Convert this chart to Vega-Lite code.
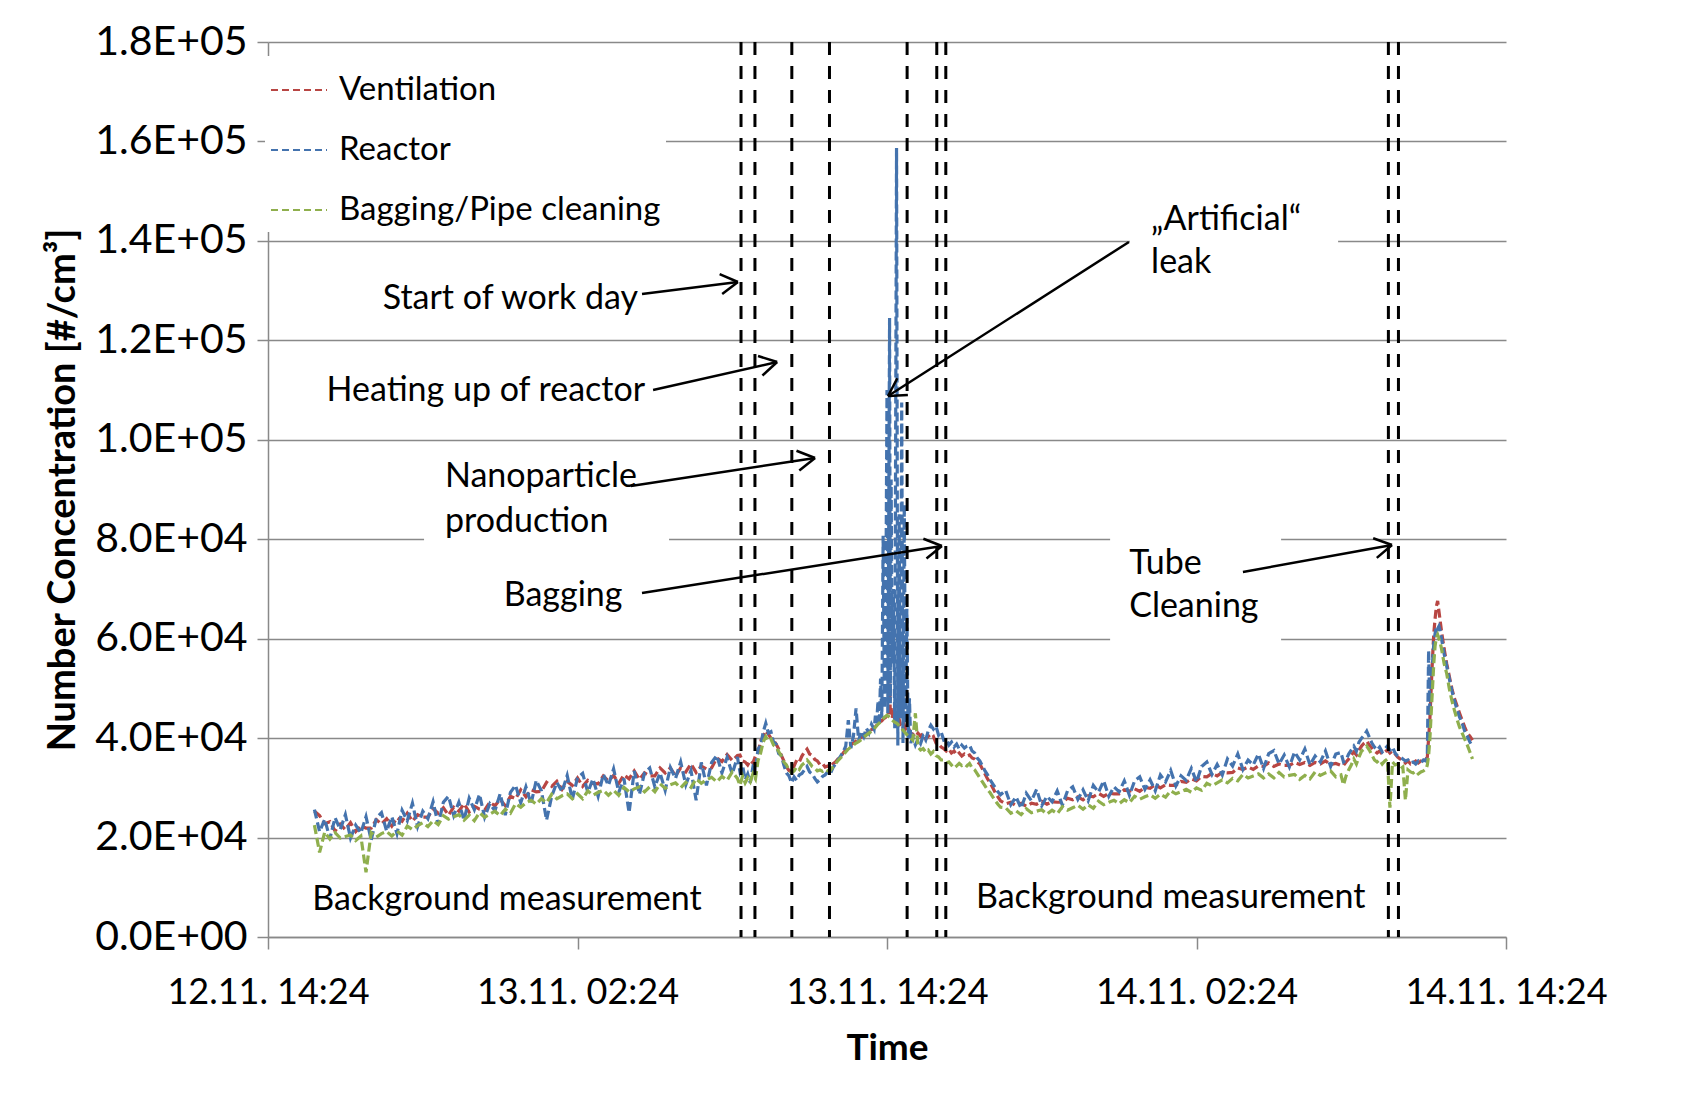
{
  "$schema": "https://vega.github.io/schema/vega-lite/v6.json",
  "width": 1238,
  "height": 895,
  "autosize": {"type": "none"},
  "padding": {"left": 268, "top": 42, "right": 200, "bottom": 160},
  "background": "white",
  "config": {
    "view": {"stroke": null},
    "font": "Lato",
    "axis": {"labelFont": "Lato", "titleFont": "Lato"}
  },
  "datasets": {
    "series": [
      {"t":1.8,"Ventilation":25300,"Reactor":25600,"Bagging/Pipe cleaning":22500},
      {"t":2.0,"Ventilation":24400,"Reactor":21200,"Bagging/Pipe cleaning":17000},
      {"t":2.2,"Ventilation":22800,"Reactor":23700,"Bagging/Pipe cleaning":21100},
      {"t":2.4,"Ventilation":23200,"Reactor":19800,"Bagging/Pipe cleaning":19700},
      {"t":2.6,"Ventilation":21300,"Reactor":24000,"Bagging/Pipe cleaning":21000},
      {"t":2.8,"Ventilation":22700,"Reactor":21600,"Bagging/Pipe cleaning":19900},
      {"t":3.0,"Ventilation":21600,"Reactor":24600,"Bagging/Pipe cleaning":20200},
      {"t":3.2,"Ventilation":23000,"Reactor":19900,"Bagging/Pipe cleaning":20500},
      {"t":3.4,"Ventilation":21200,"Reactor":22500,"Bagging/Pipe cleaning":19400},
      {"t":3.6,"Ventilation":22300,"Reactor":20900,"Bagging/Pipe cleaning":20300},
      {"t":3.8,"Ventilation":21900,"Reactor":24200,"Bagging/Pipe cleaning":13000},
      {"t":4.0,"Ventilation":21900,"Reactor":19500,"Bagging/Pipe cleaning":21000},
      {"t":4.2,"Ventilation":23600,"Reactor":23900,"Bagging/Pipe cleaning":20100},
      {"t":4.4,"Ventilation":22700,"Reactor":25000,"Bagging/Pipe cleaning":20800},
      {"t":4.6,"Ventilation":23800,"Reactor":21300,"Bagging/Pipe cleaning":21200},
      {"t":4.8,"Ventilation":22300,"Reactor":24200,"Bagging/Pipe cleaning":20300},
      {"t":5.0,"Ventilation":24000,"Reactor":20800,"Bagging/Pipe cleaning":21300},
      {"t":5.2,"Ventilation":23300,"Reactor":25500,"Bagging/Pipe cleaning":20500},
      {"t":5.4,"Ventilation":24900,"Reactor":23400,"Bagging/Pipe cleaning":22300},
      {"t":5.6,"Ventilation":23300,"Reactor":26900,"Bagging/Pipe cleaning":21600},
      {"t":5.8,"Ventilation":24600,"Reactor":22200,"Bagging/Pipe cleaning":22400},
      {"t":6.0,"Ventilation":24100,"Reactor":25300,"Bagging/Pipe cleaning":23000},
      {"t":6.2,"Ventilation":24100,"Reactor":23800,"Bagging/Pipe cleaning":22200},
      {"t":6.4,"Ventilation":25800,"Reactor":27200,"Bagging/Pipe cleaning":23400},
      {"t":6.6,"Ventilation":24900,"Reactor":22600,"Bagging/Pipe cleaning":22600},
      {"t":6.8,"Ventilation":26000,"Reactor":27100,"Bagging/Pipe cleaning":24400},
      {"t":7.0,"Ventilation":24500,"Reactor":28300,"Bagging/Pipe cleaning":23700},
      {"t":7.2,"Ventilation":26100,"Reactor":24400,"Bagging/Pipe cleaning":24200},
      {"t":7.4,"Ventilation":25300,"Reactor":27100,"Bagging/Pipe cleaning":24600},
      {"t":7.6,"Ventilation":26800,"Reactor":23500,"Bagging/Pipe cleaning":23500},
      {"t":7.8,"Ventilation":25100,"Reactor":27900,"Bagging/Pipe cleaning":24500},
      {"t":8.0,"Ventilation":26300,"Reactor":25600,"Bagging/Pipe cleaning":23400},
      {"t":8.2,"Ventilation":25700,"Reactor":28700,"Bagging/Pipe cleaning":25000},
      {"t":8.4,"Ventilation":25500,"Reactor":24100,"Bagging/Pipe cleaning":24100},
      {"t":8.6,"Ventilation":27100,"Reactor":26800,"Bagging/Pipe cleaning":24700},
      {"t":8.8,"Ventilation":26400,"Reactor":25400,"Bagging/Pipe cleaning":25300},
      {"t":9.0,"Ventilation":27700,"Reactor":28800,"Bagging/Pipe cleaning":24400},
      {"t":9.2,"Ventilation":26400,"Reactor":24500,"Bagging/Pipe cleaning":25700},
      {"t":9.4,"Ventilation":28300,"Reactor":29100,"Bagging/Pipe cleaning":24900},
      {"t":9.6,"Ventilation":27800,"Reactor":30500,"Bagging/Pipe cleaning":26800},
      {"t":9.8,"Ventilation":29600,"Reactor":27000,"Bagging/Pipe cleaning":26100},
      {"t":10.0,"Ventilation":28200,"Reactor":30200,"Bagging/Pipe cleaning":27000},
      {"t":10.2,"Ventilation":29600,"Reactor":26800,"Bagging/Pipe cleaning":27500},
      {"t":10.4,"Ventilation":29200,"Reactor":31500,"Bagging/Pipe cleaning":26700},
      {"t":10.6,"Ventilation":29300,"Reactor":29400,"Bagging/Pipe cleaning":27800},
      {"t":10.8,"Ventilation":31100,"Reactor":23500,"Bagging/Pipe cleaning":27000},
      {"t":11.0,"Ventilation":30300,"Reactor":28300,"Bagging/Pipe cleaning":28700},
      {"t":11.2,"Ventilation":31300,"Reactor":31100,"Bagging/Pipe cleaning":27800},
      {"t":11.4,"Ventilation":29700,"Reactor":29200,"Bagging/Pipe cleaning":28400},
      {"t":11.6,"Ventilation":31300,"Reactor":32500,"Bagging/Pipe cleaning":28800},
      {"t":11.8,"Ventilation":30500,"Reactor":27700,"Bagging/Pipe cleaning":27800},
      {"t":12.0,"Ventilation":32000,"Reactor":32000,"Bagging/Pipe cleaning":28800},
      {"t":12.2,"Ventilation":30300,"Reactor":32900,"Bagging/Pipe cleaning":27800},
      {"t":12.4,"Ventilation":31500,"Reactor":29100,"Bagging/Pipe cleaning":29400},
      {"t":12.6,"Ventilation":30900,"Reactor":31800,"Bagging/Pipe cleaning":28500},
      {"t":12.8,"Ventilation":30800,"Reactor":28300,"Bagging/Pipe cleaning":29100},
      {"t":13.0,"Ventilation":32400,"Reactor":32700,"Bagging/Pipe cleaning":29500},
      {"t":13.2,"Ventilation":31400,"Reactor":30500,"Bagging/Pipe cleaning":28500},
      {"t":13.4,"Ventilation":32500,"Reactor":33800,"Bagging/Pipe cleaning":29500},
      {"t":13.6,"Ventilation":30900,"Reactor":29100,"Bagging/Pipe cleaning":28500},
      {"t":13.8,"Ventilation":32600,"Reactor":31900,"Bagging/Pipe cleaning":30100},
      {"t":14.0,"Ventilation":31800,"Reactor":25000,"Bagging/Pipe cleaning":29200},
      {"t":14.2,"Ventilation":33400,"Reactor":33400,"Bagging/Pipe cleaning":29800},
      {"t":14.4,"Ventilation":31700,"Reactor":28700,"Bagging/Pipe cleaning":30200},
      {"t":14.6,"Ventilation":33000,"Reactor":33000,"Bagging/Pipe cleaning":29200},
      {"t":14.8,"Ventilation":32400,"Reactor":34000,"Bagging/Pipe cleaning":30200},
      {"t":15.0,"Ventilation":32400,"Reactor":30200,"Bagging/Pipe cleaning":29200},
      {"t":15.2,"Ventilation":34000,"Reactor":33000,"Bagging/Pipe cleaning":30800},
      {"t":15.4,"Ventilation":33000,"Reactor":29500,"Bagging/Pipe cleaning":29900},
      {"t":15.6,"Ventilation":34000,"Reactor":34100,"Bagging/Pipe cleaning":30600},
      {"t":15.8,"Ventilation":32400,"Reactor":31900,"Bagging/Pipe cleaning":31000},
      {"t":16.0,"Ventilation":34000,"Reactor":35200,"Bagging/Pipe cleaning":30000},
      {"t":16.2,"Ventilation":33200,"Reactor":30600,"Bagging/Pipe cleaning":31100},
      {"t":16.4,"Ventilation":34800,"Reactor":33500,"Bagging/Pipe cleaning":30100},
      {"t":16.6,"Ventilation":33100,"Reactor":27500,"Bagging/Pipe cleaning":31800},
      {"t":16.8,"Ventilation":34400,"Reactor":35100,"Bagging/Pipe cleaning":30900},
      {"t":17.0,"Ventilation":33800,"Reactor":30500,"Bagging/Pipe cleaning":31600},
      {"t":17.2,"Ventilation":34000,"Reactor":35100,"Bagging/Pipe cleaning":32100},
      {"t":17.4,"Ventilation":36000,"Reactor":36500,"Bagging/Pipe cleaning":31200},
      {"t":17.6,"Ventilation":35300,"Reactor":33000,"Bagging/Pipe cleaning":32300},
      {"t":17.8,"Ventilation":36700,"Reactor":36100,"Bagging/Pipe cleaning":31500},
      {"t":18.0,"Ventilation":35500,"Reactor":32800,"Bagging/Pipe cleaning":33200},
      {"t":18.2,"Ventilation":36500,"Reactor":36200,"Bagging/Pipe cleaning":31900},
      {"t":18.3,"Ventilation":36600,"Reactor":33200,"Bagging/Pipe cleaning":30500},
      {"t":18.4,"Ventilation":35400,"Reactor":34500,"Bagging/Pipe cleaning":32400},
      {"t":18.5,"Ventilation":35200,"Reactor":31600,"Bagging/Pipe cleaning":31000},
      {"t":18.6,"Ventilation":34600,"Reactor":32800,"Bagging/Pipe cleaning":32000},
      {"t":18.7,"Ventilation":35500,"Reactor":31000,"Bagging/Pipe cleaning":31200},
      {"t":18.8,"Ventilation":35000,"Reactor":34200,"Bagging/Pipe cleaning":32800},
      {"t":18.9,"Ventilation":36400,"Reactor":33500,"Bagging/Pipe cleaning":31800},
      {"t":19.0,"Ventilation":37000,"Reactor":37800,"Bagging/Pipe cleaning":35500},
      {"t":19.1,"Ventilation":39500,"Reactor":38500,"Bagging/Pipe cleaning":37000},
      {"t":19.2,"Ventilation":40200,"Reactor":41200,"Bagging/Pipe cleaning":39200},
      {"t":19.3,"Ventilation":41500,"Reactor":43000,"Bagging/Pipe cleaning":40300},
      {"t":19.4,"Ventilation":40800,"Reactor":41000,"Bagging/Pipe cleaning":39400},
      {"t":19.5,"Ventilation":40000,"Reactor":41300,"Bagging/Pipe cleaning":39800},
      {"t":19.6,"Ventilation":39600,"Reactor":39200,"Bagging/Pipe cleaning":38600},
      {"t":19.7,"Ventilation":38800,"Reactor":38800,"Bagging/Pipe cleaning":38200},
      {"t":19.8,"Ventilation":37800,"Reactor":36900,"Bagging/Pipe cleaning":37300},
      {"t":19.9,"Ventilation":36600,"Reactor":36500,"Bagging/Pipe cleaning":36400},
      {"t":20.0,"Ventilation":35400,"Reactor":34600,"Bagging/Pipe cleaning":35200},
      {"t":20.1,"Ventilation":34200,"Reactor":33000,"Bagging/Pipe cleaning":34600},
      {"t":20.2,"Ventilation":33500,"Reactor":32400,"Bagging/Pipe cleaning":33600},
      {"t":20.3,"Ventilation":33200,"Reactor":31000,"Bagging/Pipe cleaning":33000},
      {"t":20.4,"Ventilation":34400,"Reactor":32200,"Bagging/Pipe cleaning":33400},
      {"t":20.5,"Ventilation":35600,"Reactor":31500,"Bagging/Pipe cleaning":34200},
      {"t":20.6,"Ventilation":35200,"Reactor":32600,"Bagging/Pipe cleaning":33700},
      {"t":20.7,"Ventilation":36400,"Reactor":32900,"Bagging/Pipe cleaning":34600},
      {"t":20.8,"Ventilation":37200,"Reactor":33600,"Bagging/Pipe cleaning":35000},
      {"t":20.9,"Ventilation":37800,"Reactor":34300,"Bagging/Pipe cleaning":35600},
      {"t":21.0,"Ventilation":36800,"Reactor":33200,"Bagging/Pipe cleaning":35000},
      {"t":21.1,"Ventilation":36500,"Reactor":32800,"Bagging/Pipe cleaning":34300},
      {"t":21.2,"Ventilation":35700,"Reactor":31900,"Bagging/Pipe cleaning":34000},
      {"t":21.3,"Ventilation":35400,"Reactor":31200,"Bagging/Pipe cleaning":33400},
      {"t":21.4,"Ventilation":34700,"Reactor":31600,"Bagging/Pipe cleaning":33600},
      {"t":21.5,"Ventilation":34900,"Reactor":32300,"Bagging/Pipe cleaning":33300},
      {"t":21.6,"Ventilation":34200,"Reactor":32600,"Bagging/Pipe cleaning":33700},
      {"t":21.7,"Ventilation":34400,"Reactor":33200,"Bagging/Pipe cleaning":33400},
      {"t":21.8,"Ventilation":34000,"Reactor":32800,"Bagging/Pipe cleaning":33500},
      {"t":21.9,"Ventilation":34800,"Reactor":34000,"Bagging/Pipe cleaning":34200},
      {"t":22.0,"Ventilation":35200,"Reactor":34800,"Bagging/Pipe cleaning":34800},
      {"t":22.1,"Ventilation":35800,"Reactor":35600,"Bagging/Pipe cleaning":35500},
      {"t":22.2,"Ventilation":36200,"Reactor":36400,"Bagging/Pipe cleaning":36000},
      {"t":22.3,"Ventilation":37000,"Reactor":37200,"Bagging/Pipe cleaning":36600},
      {"t":22.4,"Ventilation":37600,"Reactor":38400,"Bagging/Pipe cleaning":37200},
      {"t":22.5,"Ventilation":38200,"Reactor":43600,"Bagging/Pipe cleaning":37800},
      {"t":22.6,"Ventilation":38600,"Reactor":38000,"Bagging/Pipe cleaning":38200},
      {"t":22.7,"Ventilation":39000,"Reactor":40400,"Bagging/Pipe cleaning":38600},
      {"t":22.8,"Ventilation":39400,"Reactor":46000,"Bagging/Pipe cleaning":39000},
      {"t":22.9,"Ventilation":39800,"Reactor":39500,"Bagging/Pipe cleaning":39300},
      {"t":23.0,"Ventilation":40200,"Reactor":41400,"Bagging/Pipe cleaning":39700},
      {"t":23.1,"Ventilation":40600,"Reactor":40300,"Bagging/Pipe cleaning":40200},
      {"t":23.2,"Ventilation":41000,"Reactor":42000,"Bagging/Pipe cleaning":40600},
      {"t":23.3,"Ventilation":41400,"Reactor":41000,"Bagging/Pipe cleaning":41000},
      {"t":23.4,"Ventilation":41700,"Reactor":42800,"Bagging/Pipe cleaning":41400},
      {"t":23.5,"Ventilation":42000,"Reactor":41800,"Bagging/Pipe cleaning":41800},
      {"t":23.55,"Ventilation":42300,"Reactor":44500,"Bagging/Pipe cleaning":42200},
      {"t":23.6,"Ventilation":42600,"Reactor":43000,"Bagging/Pipe cleaning":42500},
      {"t":23.65,"Ventilation":42900,"Reactor":47500,"Bagging/Pipe cleaning":42800},
      {"t":23.7,"Ventilation":43000,"Reactor":42500,"Bagging/Pipe cleaning":43000},
      {"t":23.75,"Ventilation":43300,"Reactor":52000,"Bagging/Pipe cleaning":43300},
      {"t":23.8,"Ventilation":43500,"Reactor":44000,"Bagging/Pipe cleaning":43600},
      {"t":23.85,"Ventilation":43800,"Reactor":80700,"Bagging/Pipe cleaning":43900},
      {"t":23.9,"Ventilation":44000,"Reactor":46000,"Bagging/Pipe cleaning":44200},
      {"t":23.95,"Ventilation":44200,"Reactor":62000,"Bagging/Pipe cleaning":44400},
      {"t":24.0,"Ventilation":44500,"Reactor":110000,"Bagging/Pipe cleaning":44600},
      {"t":24.03,"Ventilation":44300,"Reactor":45000,"Bagging/Pipe cleaning":44500},
      {"t":24.06,"Ventilation":45000,"Reactor":75000,"Bagging/Pipe cleaning":44400},
      {"t":24.1,"Ventilation":51000,"Reactor":124500,"Bagging/Pipe cleaning":44200},
      {"t":24.13,"Ventilation":44800,"Reactor":47000,"Bagging/Pipe cleaning":44000},
      {"t":24.16,"Ventilation":46000,"Reactor":92000,"Bagging/Pipe cleaning":43800},
      {"t":24.2,"Ventilation":44000,"Reactor":55000,"Bagging/Pipe cleaning":43600},
      {"t":24.25,"Ventilation":45500,"Reactor":70000,"Bagging/Pipe cleaning":43400},
      {"t":24.3,"Ventilation":43600,"Reactor":42000,"Bagging/Pipe cleaning":43200},
      {"t":24.37,"Ventilation":44200,"Reactor":158700,"Bagging/Pipe cleaning":43000},
      {"t":24.42,"Ventilation":43200,"Reactor":38500,"Bagging/Pipe cleaning":42800},
      {"t":24.47,"Ventilation":43800,"Reactor":85000,"Bagging/Pipe cleaning":42500},
      {"t":24.52,"Ventilation":42800,"Reactor":44000,"Bagging/Pipe cleaning":42200},
      {"t":24.57,"Ventilation":43000,"Reactor":107500,"Bagging/Pipe cleaning":41900},
      {"t":24.62,"Ventilation":42200,"Reactor":39000,"Bagging/Pipe cleaning":41600},
      {"t":24.67,"Ventilation":42600,"Reactor":87000,"Bagging/Pipe cleaning":41300},
      {"t":24.72,"Ventilation":41800,"Reactor":43000,"Bagging/Pipe cleaning":41000},
      {"t":24.77,"Ventilation":42000,"Reactor":66000,"Bagging/Pipe cleaning":40700},
      {"t":24.82,"Ventilation":41400,"Reactor":40000,"Bagging/Pipe cleaning":40400},
      {"t":24.87,"Ventilation":41600,"Reactor":48000,"Bagging/Pipe cleaning":40200},
      {"t":24.92,"Ventilation":41000,"Reactor":39000,"Bagging/Pipe cleaning":40000},
      {"t":25.0,"Ventilation":40800,"Reactor":40200,"Bagging/Pipe cleaning":39600},
      {"t":25.1,"Ventilation":40200,"Reactor":38600,"Bagging/Pipe cleaning":45000},
      {"t":25.2,"Ventilation":41000,"Reactor":39800,"Bagging/Pipe cleaning":38200},
      {"t":25.3,"Ventilation":40400,"Reactor":38900,"Bagging/Pipe cleaning":37600},
      {"t":25.4,"Ventilation":40900,"Reactor":40400,"Bagging/Pipe cleaning":37900},
      {"t":25.5,"Ventilation":39800,"Reactor":39600,"Bagging/Pipe cleaning":37200},
      {"t":25.6,"Ventilation":40500,"Reactor":41500,"Bagging/Pipe cleaning":37600},
      {"t":25.7,"Ventilation":39900,"Reactor":42600,"Bagging/Pipe cleaning":36800},
      {"t":25.8,"Ventilation":40300,"Reactor":41800,"Bagging/Pipe cleaning":37300},
      {"t":25.9,"Ventilation":39000,"Reactor":42400,"Bagging/Pipe cleaning":36500},
      {"t":26.0,"Ventilation":38800,"Reactor":40600,"Bagging/Pipe cleaning":36200},
      {"t":26.1,"Ventilation":38200,"Reactor":41200,"Bagging/Pipe cleaning":35600},
      {"t":26.2,"Ventilation":37900,"Reactor":39600,"Bagging/Pipe cleaning":35600},
      {"t":26.3,"Ventilation":37400,"Reactor":39800,"Bagging/Pipe cleaning":35000},
      {"t":26.4,"Ventilation":37800,"Reactor":38600,"Bagging/Pipe cleaning":35200},
      {"t":26.5,"Ventilation":37000,"Reactor":39200,"Bagging/Pipe cleaning":34600},
      {"t":26.6,"Ventilation":37400,"Reactor":38200,"Bagging/Pipe cleaning":35000},
      {"t":26.7,"Ventilation":36600,"Reactor":38800,"Bagging/Pipe cleaning":34400},
      {"t":26.8,"Ventilation":37000,"Reactor":37800,"Bagging/Pipe cleaning":34900},
      {"t":26.9,"Ventilation":36400,"Reactor":38600,"Bagging/Pipe cleaning":34500},
      {"t":27.0,"Ventilation":36800,"Reactor":38000,"Bagging/Pipe cleaning":34800},
      {"t":27.1,"Ventilation":36400,"Reactor":38400,"Bagging/Pipe cleaning":34400},
      {"t":27.2,"Ventilation":36600,"Reactor":38600,"Bagging/Pipe cleaning":34900},
      {"t":27.3,"Ventilation":36000,"Reactor":37400,"Bagging/Pipe cleaning":34000},
      {"t":27.4,"Ventilation":35800,"Reactor":37000,"Bagging/Pipe cleaning":33600},
      {"t":27.5,"Ventilation":35200,"Reactor":36000,"Bagging/Pipe cleaning":32800},
      {"t":27.6,"Ventilation":34800,"Reactor":35400,"Bagging/Pipe cleaning":32000},
      {"t":27.7,"Ventilation":33800,"Reactor":34400,"Bagging/Pipe cleaning":31200},
      {"t":27.8,"Ventilation":32800,"Reactor":33400,"Bagging/Pipe cleaning":30400},
      {"t":27.9,"Ventilation":31800,"Reactor":32600,"Bagging/Pipe cleaning":29600},
      {"t":28.0,"Ventilation":31000,"Reactor":31600,"Bagging/Pipe cleaning":29000},
      {"t":28.1,"Ventilation":30000,"Reactor":30800,"Bagging/Pipe cleaning":28200},
      {"t":28.2,"Ventilation":29000,"Reactor":30000,"Bagging/Pipe cleaning":27400},
      {"t":28.3,"Ventilation":28200,"Reactor":29200,"Bagging/Pipe cleaning":26700},
      {"t":28.4,"Ventilation":27400,"Reactor":28600,"Bagging/Pipe cleaning":26100},
      {"t":28.6,"Ventilation":26800,"Reactor":29500,"Bagging/Pipe cleaning":26000},
      {"t":28.8,"Ventilation":27100,"Reactor":26600,"Bagging/Pipe cleaning":24900},
      {"t":29.0,"Ventilation":26400,"Reactor":28200,"Bagging/Pipe cleaning":25400},
      {"t":29.2,"Ventilation":26900,"Reactor":25900,"Bagging/Pipe cleaning":24600},
      {"t":29.4,"Ventilation":26300,"Reactor":28900,"Bagging/Pipe cleaning":25800},
      {"t":29.6,"Ventilation":26900,"Reactor":27400,"Bagging/Pipe cleaning":25000},
      {"t":29.8,"Ventilation":26700,"Reactor":29700,"Bagging/Pipe cleaning":25300},
      {"t":30.0,"Ventilation":27300,"Reactor":26400,"Bagging/Pipe cleaning":25600},
      {"t":30.2,"Ventilation":26700,"Reactor":28300,"Bagging/Pipe cleaning":24700},
      {"t":30.4,"Ventilation":27200,"Reactor":27200,"Bagging/Pipe cleaning":25500},
      {"t":30.6,"Ventilation":27100,"Reactor":29400,"Bagging/Pipe cleaning":24800},
      {"t":30.8,"Ventilation":27100,"Reactor":26500,"Bagging/Pipe cleaning":26200},
      {"t":31.0,"Ventilation":27900,"Reactor":29400,"Bagging/Pipe cleaning":25500},
      {"t":31.2,"Ventilation":27600,"Reactor":30200,"Bagging/Pipe cleaning":26000},
      {"t":31.4,"Ventilation":28200,"Reactor":27700,"Bagging/Pipe cleaning":26500},
      {"t":31.6,"Ventilation":27600,"Reactor":29600,"Bagging/Pipe cleaning":25700},
      {"t":31.8,"Ventilation":28400,"Reactor":27400,"Bagging/Pipe cleaning":26600},
      {"t":32.0,"Ventilation":28200,"Reactor":30500,"Bagging/Pipe cleaning":25900},
      {"t":32.2,"Ventilation":28900,"Reactor":29100,"Bagging/Pipe cleaning":27300},
      {"t":32.4,"Ventilation":28300,"Reactor":31400,"Bagging/Pipe cleaning":26600},
      {"t":32.6,"Ventilation":28900,"Reactor":28300,"Bagging/Pipe cleaning":27100},
      {"t":32.8,"Ventilation":28800,"Reactor":30200,"Bagging/Pipe cleaning":27500},
      {"t":33.0,"Ventilation":28800,"Reactor":29200,"Bagging/Pipe cleaning":26800},
      {"t":33.2,"Ventilation":29600,"Reactor":31400,"Bagging/Pipe cleaning":27600},
      {"t":33.4,"Ventilation":29300,"Reactor":28500,"Bagging/Pipe cleaning":27000},
      {"t":33.6,"Ventilation":29800,"Reactor":31400,"Bagging/Pipe cleaning":28300},
      {"t":33.8,"Ventilation":29300,"Reactor":32200,"Bagging/Pipe cleaning":27700},
      {"t":34.0,"Ventilation":30100,"Reactor":29700,"Bagging/Pipe cleaning":28200},
      {"t":34.2,"Ventilation":29900,"Reactor":31600,"Bagging/Pipe cleaning":28600},
      {"t":34.4,"Ventilation":30600,"Reactor":29400,"Bagging/Pipe cleaning":27900},
      {"t":34.6,"Ventilation":30000,"Reactor":32600,"Bagging/Pipe cleaning":28700},
      {"t":34.8,"Ventilation":30600,"Reactor":31200,"Bagging/Pipe cleaning":28100},
      {"t":35.0,"Ventilation":30500,"Reactor":33500,"Bagging/Pipe cleaning":29400},
      {"t":35.2,"Ventilation":30500,"Reactor":30400,"Bagging/Pipe cleaning":28800},
      {"t":35.4,"Ventilation":31300,"Reactor":32400,"Bagging/Pipe cleaning":29200},
      {"t":35.6,"Ventilation":31100,"Reactor":31500,"Bagging/Pipe cleaning":29700},
      {"t":35.8,"Ventilation":31800,"Reactor":33900,"Bagging/Pipe cleaning":29100},
      {"t":36.0,"Ventilation":31400,"Reactor":31200,"Bagging/Pipe cleaning":30000},
      {"t":36.2,"Ventilation":32300,"Reactor":34300,"Bagging/Pipe cleaning":29500},
      {"t":36.4,"Ventilation":32200,"Reactor":35200,"Bagging/Pipe cleaning":30900},
      {"t":36.6,"Ventilation":32900,"Reactor":32700,"Bagging/Pipe cleaning":30400},
      {"t":36.8,"Ventilation":32400,"Reactor":34700,"Bagging/Pipe cleaning":31000},
      {"t":37.0,"Ventilation":33100,"Reactor":32600,"Bagging/Pipe cleaning":31600},
      {"t":37.2,"Ventilation":33000,"Reactor":35800,"Bagging/Pipe cleaning":31000},
      {"t":37.4,"Ventilation":33100,"Reactor":34400,"Bagging/Pipe cleaning":31900},
      {"t":37.6,"Ventilation":34000,"Reactor":36800,"Bagging/Pipe cleaning":31400},
      {"t":37.8,"Ventilation":33700,"Reactor":33700,"Bagging/Pipe cleaning":32700},
      {"t":38.0,"Ventilation":34200,"Reactor":35600,"Bagging/Pipe cleaning":32000},
      {"t":38.2,"Ventilation":33700,"Reactor":34600,"Bagging/Pipe cleaning":32400},
      {"t":38.4,"Ventilation":34400,"Reactor":36800,"Bagging/Pipe cleaning":32800},
      {"t":38.6,"Ventilation":34300,"Reactor":33900,"Bagging/Pipe cleaning":32000},
      {"t":38.8,"Ventilation":35000,"Reactor":36900,"Bagging/Pipe cleaning":32800},
      {"t":39.0,"Ventilation":34300,"Reactor":37500,"Bagging/Pipe cleaning":32000},
      {"t":39.2,"Ventilation":34800,"Reactor":34800,"Bagging/Pipe cleaning":33100},
      {"t":39.4,"Ventilation":34500,"Reactor":36600,"Bagging/Pipe cleaning":32200},
      {"t":39.6,"Ventilation":34500,"Reactor":34200,"Bagging/Pipe cleaning":32500},
      {"t":39.8,"Ventilation":35100,"Reactor":37200,"Bagging/Pipe cleaning":32700},
      {"t":40.0,"Ventilation":34700,"Reactor":35600,"Bagging/Pipe cleaning":31700},
      {"t":40.2,"Ventilation":35100,"Reactor":37800,"Bagging/Pipe cleaning":32500},
      {"t":40.4,"Ventilation":34500,"Reactor":34600,"Bagging/Pipe cleaning":31800},
      {"t":40.6,"Ventilation":35100,"Reactor":36400,"Bagging/Pipe cleaning":33200},
      {"t":40.8,"Ventilation":34800,"Reactor":35200,"Bagging/Pipe cleaning":32500},
      {"t":41.0,"Ventilation":35400,"Reactor":37400,"Bagging/Pipe cleaning":33000},
      {"t":41.2,"Ventilation":34700,"Reactor":34300,"Bagging/Pipe cleaning":33400},
      {"t":41.4,"Ventilation":34900,"Reactor":36800,"Bagging/Pipe cleaning":32200},
      {"t":41.6,"Ventilation":34500,"Reactor":37100,"Bagging/Pipe cleaning":32600},
      {"t":41.7,"Ventilation":34500,"Reactor":35200,"Bagging/Pipe cleaning":30600},
      {"t":41.8,"Ventilation":35200,"Reactor":35600,"Bagging/Pipe cleaning":32400},
      {"t":41.9,"Ventilation":35800,"Reactor":36800,"Bagging/Pipe cleaning":33600},
      {"t":42.0,"Ventilation":36600,"Reactor":37600,"Bagging/Pipe cleaning":34600},
      {"t":42.1,"Ventilation":37200,"Reactor":38400,"Bagging/Pipe cleaning":35800},
      {"t":42.2,"Ventilation":36600,"Reactor":37400,"Bagging/Pipe cleaning":34800},
      {"t":42.3,"Ventilation":37600,"Reactor":39200,"Bagging/Pipe cleaning":36200},
      {"t":42.4,"Ventilation":38400,"Reactor":40000,"Bagging/Pipe cleaning":37400},
      {"t":42.5,"Ventilation":39000,"Reactor":40600,"Bagging/Pipe cleaning":37800},
      {"t":42.6,"Ventilation":39400,"Reactor":41400,"Bagging/Pipe cleaning":38400},
      {"t":42.7,"Ventilation":38600,"Reactor":40200,"Bagging/Pipe cleaning":37600},
      {"t":42.8,"Ventilation":38000,"Reactor":39000,"Bagging/Pipe cleaning":36600},
      {"t":42.9,"Ventilation":37400,"Reactor":38200,"Bagging/Pipe cleaning":35600},
      {"t":43.0,"Ventilation":37000,"Reactor":37600,"Bagging/Pipe cleaning":35200},
      {"t":43.1,"Ventilation":37400,"Reactor":38200,"Bagging/Pipe cleaning":35600},
      {"t":43.2,"Ventilation":36800,"Reactor":37200,"Bagging/Pipe cleaning":34800},
      {"t":43.3,"Ventilation":37200,"Reactor":37800,"Bagging/Pipe cleaning":35400},
      {"t":43.4,"Ventilation":37600,"Reactor":38400,"Bagging/Pipe cleaning":35800},
      {"t":43.5,"Ventilation":37000,"Reactor":37600,"Bagging/Pipe cleaning":26000},
      {"t":43.6,"Ventilation":37400,"Reactor":38200,"Bagging/Pipe cleaning":35200},
      {"t":43.7,"Ventilation":36800,"Reactor":37000,"Bagging/Pipe cleaning":34600},
      {"t":43.8,"Ventilation":36200,"Reactor":36400,"Bagging/Pipe cleaning":34800},
      {"t":43.9,"Ventilation":35800,"Reactor":36200,"Bagging/Pipe cleaning":33800},
      {"t":44.0,"Ventilation":35600,"Reactor":35800,"Bagging/Pipe cleaning":34200},
      {"t":44.1,"Ventilation":35000,"Reactor":35400,"Bagging/Pipe cleaning":27500},
      {"t":44.2,"Ventilation":35400,"Reactor":35600,"Bagging/Pipe cleaning":33600},
      {"t":44.3,"Ventilation":34800,"Reactor":35000,"Bagging/Pipe cleaning":33200},
      {"t":44.4,"Ventilation":35000,"Reactor":35200,"Bagging/Pipe cleaning":33000},
      {"t":44.5,"Ventilation":35400,"Reactor":34800,"Bagging/Pipe cleaning":33400},
      {"t":44.6,"Ventilation":35000,"Reactor":35400,"Bagging/Pipe cleaning":32800},
      {"t":44.7,"Ventilation":35400,"Reactor":35000,"Bagging/Pipe cleaning":33200},
      {"t":44.8,"Ventilation":35200,"Reactor":35600,"Bagging/Pipe cleaning":33400},
      {"t":44.9,"Ventilation":35800,"Reactor":35400,"Bagging/Pipe cleaning":33800},
      {"t":44.95,"Ventilation":36200,"Reactor":36600,"Bagging/Pipe cleaning":34600},
      {"t":45.0,"Ventilation":40000,"Reactor":57600,"Bagging/Pipe cleaning":36500},
      {"t":45.05,"Ventilation":44000,"Reactor":44500,"Bagging/Pipe cleaning":40000},
      {"t":45.1,"Ventilation":50000,"Reactor":52000,"Bagging/Pipe cleaning":45000},
      {"t":45.15,"Ventilation":56000,"Reactor":55000,"Bagging/Pipe cleaning":50000},
      {"t":45.2,"Ventilation":61000,"Reactor":59000,"Bagging/Pipe cleaning":55000},
      {"t":45.25,"Ventilation":64000,"Reactor":61000,"Bagging/Pipe cleaning":58500},
      {"t":45.3,"Ventilation":66500,"Reactor":62500,"Bagging/Pipe cleaning":60200},
      {"t":45.35,"Ventilation":67600,"Reactor":62000,"Bagging/Pipe cleaning":60800},
      {"t":45.4,"Ventilation":65500,"Reactor":62500,"Bagging/Pipe cleaning":60000},
      {"t":45.45,"Ventilation":63500,"Reactor":61500,"Bagging/Pipe cleaning":59200},
      {"t":45.5,"Ventilation":61500,"Reactor":60000,"Bagging/Pipe cleaning":58000},
      {"t":45.6,"Ventilation":58000,"Reactor":57000,"Bagging/Pipe cleaning":55000},
      {"t":45.7,"Ventilation":55000,"Reactor":54500,"Bagging/Pipe cleaning":53000},
      {"t":45.8,"Ventilation":52500,"Reactor":52000,"Bagging/Pipe cleaning":50000},
      {"t":45.9,"Ventilation":50000,"Reactor":49600,"Bagging/Pipe cleaning":47600},
      {"t":46.0,"Ventilation":48000,"Reactor":47500,"Bagging/Pipe cleaning":45600},
      {"t":46.1,"Ventilation":46500,"Reactor":45800,"Bagging/Pipe cleaning":43800},
      {"t":46.2,"Ventilation":45000,"Reactor":44200,"Bagging/Pipe cleaning":42200},
      {"t":46.3,"Ventilation":43600,"Reactor":43000,"Bagging/Pipe cleaning":41000},
      {"t":46.4,"Ventilation":42200,"Reactor":41400,"Bagging/Pipe cleaning":39800},
      {"t":46.5,"Ventilation":41000,"Reactor":40400,"Bagging/Pipe cleaning":38600},
      {"t":46.6,"Ventilation":40400,"Reactor":39200,"Bagging/Pipe cleaning":37200},
      {"t":46.7,"Ventilation":39600,"Reactor":38400,"Bagging/Pipe cleaning":35800}
    ],
    "events": [
      {"t":18.34},{"t":18.88},{"t":20.31},{"t":21.77},{"t":24.78},{"t":25.93},{"t":26.28},{"t":43.44},{"t":43.83}
    ],
    "boxes": [
      {"t1":6.05,"t2":15.55,"v1":77000,"v2":96500},
      {"t1":32.65,"t2":39.28,"v1":57000,"v2":82500},
      {"t1":33.42,"t2":41.49,"v1":131100,"v2":149200}
    ],
    "labelsLeft": [
      {"t":6.86,"v":92600,"text":"Nanoparticle"},
      {"t":6.86,"v":83500,"text":"production"},
      {"t":9.14,"v":68600,"text":"Bagging"},
      {"t":34.24,"v":144200,"text":"„Artificial“"},
      {"t":34.24,"v":135500,"text":"leak"},
      {"t":33.39,"v":75100,"text":"Tube"},
      {"t":33.39,"v":66400,"text":"Cleaning"},
      {"t":1.72,"v":7500,"text":"Background measurement"},
      {"t":27.45,"v":7900,"text":"Background measurement"}
    ],
    "labelsRight": [
      {"t":14.35,"v":128300,"text":"Start of work day"},
      {"t":14.62,"v":109900,"text":"Heating up of reactor"}
    ],
    "arrows": [
      {"t1":14.50,"v1":129320,"t2":18.22,"v2":131730},
      {"t1":18.22,"v1":131730,"t2":17.51,"v2":133300},
      {"t1":18.22,"v1":131730,"t2":17.61,"v2":129300},
      {"t1":14.93,"v1":110010,"t2":19.74,"v2":115640},
      {"t1":19.74,"v1":115640,"t2":19.00,"v2":116840},
      {"t1":19.74,"v1":115640,"t2":19.17,"v2":112920},
      {"t1":14.07,"v1":90700,"t2":21.21,"v2":96340},
      {"t1":21.21,"v1":96340,"t2":20.49,"v2":97800},
      {"t1":21.21,"v1":96340,"t2":20.60,"v2":93830},
      {"t1":14.50,"v1":69190,"t2":26.13,"v2":78640},
      {"t1":26.13,"v1":78640,"t2":25.41,"v2":80090},
      {"t1":26.13,"v1":78640,"t2":25.53,"v2":76110},
      {"t1":33.38,"v1":139780,"t2":24.04,"v2":108810},
      {"t1":24.04,"v1":108810,"t2":24.81,"v2":108990},
      {"t1":24.04,"v1":108810,"t2":24.40,"v2":112380},
      {"t1":37.80,"v1":73410,"t2":43.58,"v2":78840},
      {"t1":43.58,"v1":78840,"t2":42.85,"v2":80200},
      {"t1":43.58,"v1":78840,"t2":42.99,"v2":76240}
    ]
  },
  "layer": [
    {
      "data": {"name": "boxes"},
      "mark": {"type": "rect", "color": "white"},
      "encoding": {
        "x": {"field": "t1", "type": "quantitative", "scale": {"domain": [0, 48], "nice": false, "zero": false}},
        "x2": {"field": "t2"},
        "y": {"field": "v1", "type": "quantitative", "scale": {"domain": [0, 180000], "nice": false, "zero": false}},
        "y2": {"field": "v2"}
      }
    },
    {
      "data": {"name": "series"},
      "transform": [{"fold": ["Ventilation", "Reactor", "Bagging/Pipe cleaning"], "as": ["series", "value"]}],
      "mark": {"type": "line", "strokeWidth": 3.2, "strokeDash": [9, 4]},
      "encoding": {
        "x": {
          "field": "t", "type": "quantitative",
          "scale": {"domain": [0, 48], "nice": false, "zero": false},
          "axis": {
            "values": [0, 12, 24, 36, 48],
            "labelExpr": "datum.value == 0 ? '12.11. 14:24' : datum.value == 12 ? '13.11. 02:24' : datum.value == 24 ? '13.11. 14:24' : datum.value == 36 ? '14.11. 02:24' : '14.11. 14:24'",
            "title": "Time",
            "grid": false,
            "domainColor": "#898989", "domainWidth": 1.5,
            "tickColor": "#898989", "tickWidth": 1.5, "tickSize": 12,
            "labelFontSize": 36, "labelColor": "black", "labelPadding": 26, "labelLimit": 0,
            "labelFlush": false, "labelOverlap": false,
            "titleFontSize": 37, "titleFontWeight": "bold", "titleColor": "black", "titlePadding": 20
          }
        },
        "y": {
          "field": "value", "type": "quantitative",
          "scale": {"domain": [0, 180000], "nice": false, "zero": false},
          "axis": {
            "values": [0, 20000, 40000, 60000, 80000, 100000, 120000, 140000, 160000, 180000],
            "labelExpr": "datum.value == 0 ? '0.0E+00' : datum.value < 100000 ? format(datum.value / 10000, '.1f') + 'E+04' : format(datum.value / 100000, '.1f') + 'E+05'",
            "title": "Number Concentration [#/cm³]",
            "grid": true, "gridColor": "#898989", "gridWidth": 1.5,
            "domainColor": "#898989", "domainWidth": 1.5,
            "tickColor": "#898989", "tickWidth": 1.5, "tickSize": 11,
            "labelFontSize": 41, "labelColor": "black", "labelPadding": 10, "labelLimit": 0,
            "labelFlush": false, "labelOverlap": false,
            "titleFontSize": 38, "titleFontWeight": "bold", "titleColor": "black", "titlePadding": 12
          }
        },
        "color": {
          "field": "series", "type": "nominal",
          "scale": {"domain": ["Ventilation", "Reactor", "Bagging/Pipe cleaning"], "range": ["#B84643", "#4473AE", "#8FAF4D"]},
          "legend": {
            "title": null, "orient": "none", "legendX": -3, "legendY": 14,
            "fillColor": "white", "padding": 5,
            "symbolType": "stroke", "symbolSize": 3136, "symbolStrokeWidth": 2, "symbolDash": [7, 4],
            "labelFontSize": 33, "labelFont": "Lato", "labelColor": "black", "labelOffset": 11, "labelLimit": 0, "rowPadding": 14
          }
        }
      }
    },
    {
      "data": {"name": "events"},
      "mark": {"type": "rule", "color": "black", "strokeWidth": 3, "strokeDash": [13, 11]},
      "encoding": {
        "x": {"field": "t", "type": "quantitative", "scale": {"domain": [0, 48], "nice": false, "zero": false}}
      }
    },
    {
      "data": {"name": "labelsLeft"},
      "mark": {"type": "text", "align": "left", "baseline": "middle", "font": "Lato", "fontSize": 34, "color": "black"},
      "encoding": {
        "x": {"field": "t", "type": "quantitative", "scale": {"domain": [0, 48], "nice": false, "zero": false}},
        "y": {"field": "v", "type": "quantitative", "scale": {"domain": [0, 180000], "nice": false, "zero": false}},
        "text": {"field": "text"}
      }
    },
    {
      "data": {"name": "labelsRight"},
      "mark": {"type": "text", "align": "right", "baseline": "middle", "font": "Lato", "fontSize": 34, "color": "black"},
      "encoding": {
        "x": {"field": "t", "type": "quantitative", "scale": {"domain": [0, 48], "nice": false, "zero": false}},
        "y": {"field": "v", "type": "quantitative", "scale": {"domain": [0, 180000], "nice": false, "zero": false}},
        "text": {"field": "text"}
      }
    },
    {
      "data": {"name": "arrows"},
      "mark": {"type": "rule", "color": "black", "strokeWidth": 2.5},
      "encoding": {
        "x": {"field": "t1", "type": "quantitative", "scale": {"domain": [0, 48], "nice": false, "zero": false}},
        "x2": {"field": "t2"},
        "y": {"field": "v1", "type": "quantitative", "scale": {"domain": [0, 180000], "nice": false, "zero": false}},
        "y2": {"field": "v2"}
      }
    }
  ]
}
